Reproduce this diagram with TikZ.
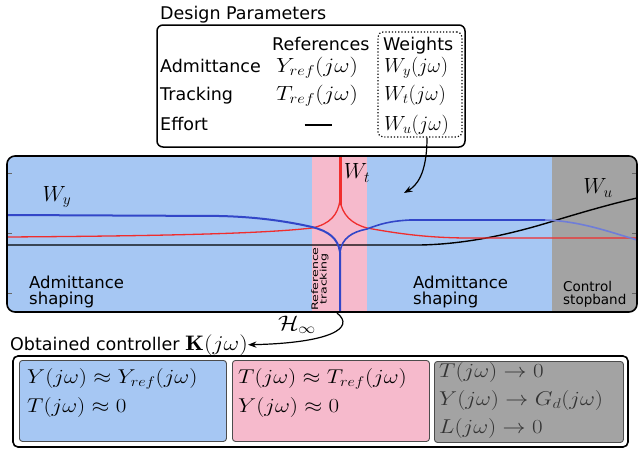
\RequirePackage{fix-cm}
\documentclass[tikz,border=0pt]{standalone}
\usepackage{amsmath,amssymb}
\usepackage{fontspec}
\setsansfont{DejaVu Sans}
\usepackage{graphicx}
\usepackage{xcolor}
\usetikzlibrary{positioning,arrows.meta,calc}
\definecolor{admblue}{RGB}{166,199,243}
\definecolor{trkpink}{RGB}{246,186,204}
\definecolor{stopgray}{RGB}{163,163,163}
\definecolor{wyblue}{RGB}{50,70,200}
\definecolor{wtred}{RGB}{240,45,45}
\newcommand{\wide}[1]{\scalebox{1.15}[1]{#1}}
\tikzset{
  txt/.style={font=\sffamily\fontsize{17.5}{15}\selectfont,inner sep=0pt},
  region/.style={font=\sffamily\fontsize{16.5}{15.5}\selectfont,inner sep=0pt,align=left},
  smallregion/.style={font=\sffamily\fontsize{13.5}{13}\selectfont,inner sep=0pt,align=left},
  tmath/.style={font=\fontsize{20.5}{22}\selectfont,inner sep=0pt},
  wlabel/.style={font=\fontsize{22}{24}\selectfont,inner sep=0pt},
  cmath/.style={font=\fontsize{20}{22}\selectfont,inner sep=0pt},
  condbox/.style={draw=black!70,rounded corners=3pt,line width=0.9pt,anchor=north west},
}

\begin{document}
\begin{tikzpicture}[x=1pt,y=-1pt,>=Stealth]
  \useasboundingbox (0,0) rectangle (639,450);
  % design parameters table
  \node[txt,anchor=base west] (dsgn) at (160,19) {Design Parameters};
  \draw[line width=1.5pt,rounded corners=6pt] (157,25) rectangle (465,147);
  \node[txt,anchor=base west] (refs) at (272,50) {References};
  \node[txt,anchor=base west] (wgts) at (383,50) {Weights};
  \node[txt,anchor=base west] (radm) at (160,72) {Admittance};
  \node[txt,anchor=base west] (rtrk) at (160,100) {Tracking};
  \node[txt,anchor=base west] (reff) at (160,130) {Effort};
  \node[tmath,anchor=base west] (yref) at (276,72) {\wide{$Y_{ref}(j\omega)$}};
  \node[tmath,anchor=base west] (tref) at (276,100) {\wide{$T_{ref}(j\omega)$}};
  \node[inner sep=0pt] (nodash) at (318,125) {\rule{27pt}{1.4pt}};
  \node[tmath,anchor=base west] (wy) at (384,72) {$W_y(j\omega)$};
  \node[tmath,anchor=base west] (wt) at (384,100) {$W_t(j\omega)$};
  \node[tmath,anchor=base west] (wu) at (384,130) {$W_u(j\omega)$};
  \node[draw,dotted,line width=1.2pt,rounded corners=5pt,minimum width=84pt,minimum height=105pt] (wbox) at (420,84.5) {};

  % frequency regions
  \begin{scope}
    \clip[rounded corners=8pt] (7,156) rectangle (637,312);
    \fill[admblue] (7,156) rectangle (312,312);
    \fill[trkpink] (312,156) rectangle (367,312);
    \fill[admblue] (367,156) rectangle (552,312);
    \fill[stopgray] (552,156) rectangle (637,312);
    \foreach \ty in {173,233,293} {
      \draw[black!60] (7,\ty) -- (12,\ty);
      \draw[black!60] (632,\ty) -- (637,\ty);
    }
    % weights
    \draw[line width=1.4pt] (7,245) -- (420,245) .. controls (475,244) and (525,230) .. (560,219) .. controls (590,210) and (615,203) .. (637,198);
    \draw[wtred,line width=1.3pt] (7,237) .. controls (150,236) and (260,234) .. (312,228) .. controls (330,224) and (338,215) .. (340,200);
    \draw[wtred,line width=1.3pt] (340,200) .. controls (342,215) and (352,224) .. (367,228) .. controls (400,234) and (430,238) .. (470,238) -- (637,238);
    \draw[wtred,line width=3pt] (340,205) -- (340,156);
    \draw[wyblue,line width=2pt] (7,215) -- (220,216) .. controls (260,217) and (290,222) .. (312,227) .. controls (328,231) and (338,238) .. (340,252) -- (340,312);
    \draw[wyblue,line width=1.6pt] (340,252) .. controls (342,238) and (352,232) .. (367,229) .. controls (380,224) and (390,221) .. (410,220) -- (545,220);
    \draw[wyblue!70,line width=1.6pt] (545,220) .. controls (580,221) and (610,232) .. (637,240);
  \end{scope}
  \draw[line width=1.6pt,rounded corners=8pt] (7,156) rectangle (637,312);
  \node[wlabel] (lwy) at (57,197) {$W_y$};
  \node[wlabel] (lwt) at (357,173) {$W_t$};
  \node[wlabel] (lwu) at (598,188) {$W_u$};
  \node[region,anchor=north west] (adml) at (29,276) {Admittance\\shaping};
  \node[region,anchor=north west] (admr) at (413,276) {Admittance\\shaping};
  \node[smallregion,anchor=north west] (stop) at (563,281) {Control\\stopband};
  \node[font=\sffamily\fontsize{9}{8.5}\selectfont,inner sep=0pt,align=center,rotate=90] (reftrk) at (320,279) {\scalebox{1.4}[1]{Reference}\\\scalebox{1.4}[1]{tracking}};
  \coordinate (plottgt) at (404,193);
  \draw[->,line width=1.2pt] ($(wbox.south)+(7,0)$) .. controls (427,175) and (416,186) .. (plottgt);

  % obtained controller
  \node[txt,anchor=base west] (ctrl) at (10,350) {Obtained controller {\fontsize{21}{22}\selectfont\wide{$\mathbf{K}(j\omega)$}}};
  \coordinate (hinfsrc) at (337,313);
  \draw[->,line width=1.2pt] (hinfsrc) .. controls (356,328) and (330,343) .. (ctrl.east);
  \node[font=\fontsize{21}{22}\selectfont,inner sep=0pt] (hinf) at (297,325) {\wide{$\mathcal{H}_\infty$}};
  \draw[line width=1.6pt,rounded corners=5pt] (13,356) rectangle (628,447);
  \node[condbox,fill=admblue,minimum width=207pt,minimum height=81pt] (cblue) at (19,360) {};
  \node[condbox,fill=trkpink,minimum width=197pt,minimum height=81pt] (cpink) at (232,360) {};
  \node[condbox,fill=stopgray,minimum width=189pt,minimum height=81pt] (cgray) at (434,361) {};
  \node[cmath,anchor=base west] (byref) at (27,383) {\wide{$Y(j\omega)\approx Y_{ref}(j\omega)$}};
  \node[cmath,anchor=base west] (bt0) at (27,412) {\wide{$T(j\omega)\approx 0$}};
  \node[cmath,anchor=base west] (ptref) at (238,383) {\wide{$T(j\omega)\approx T_{ref}(j\omega)$}};
  \node[cmath,anchor=base west] (py0) at (238,412) {\wide{$Y(j\omega)\approx 0$}};
  \node[cmath,text=black!80,anchor=base west] (gt0) at (439,377) {\wide{$T(j\omega)\rightarrow 0$}};
  \node[cmath,text=black!80,anchor=base west] (gyg) at (439,405) {\wide{$Y(j\omega)\rightarrow G_d(j\omega)$}};
  \node[cmath,text=black!80,anchor=base west] (gl0) at (439,433) {\wide{$L(j\omega)\rightarrow 0$}};
\end{tikzpicture}
\end{document}
